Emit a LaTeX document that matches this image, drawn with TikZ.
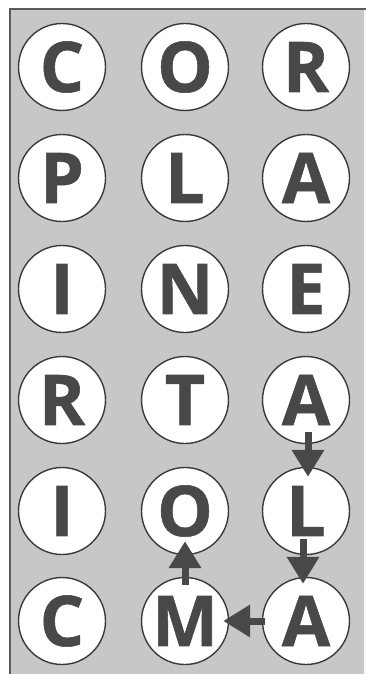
\documentclass[tikz,border=0pt]{standalone}
\usepackage{fontspec}
\setmainfont{Open Sans}
\newfontfamily\ballfont{Open Sans}[UprightFont={* Bold}, FakeBold=0.8]
\usetikzlibrary{arrows.meta}
\definecolor{bggrey}{HTML}{C6C7C9}
\definecolor{edgegrey}{HTML}{5A5A5C}
\definecolor{inkgrey}{HTML}{48484A}
\definecolor{ringgrey}{HTML}{3A3A3C}
\tikzset{
  letterball/.style={circle, minimum size=87pt, inner sep=0pt, draw=ringgrey,
    line width=1.4pt, fill=white, text=inkgrey,
    font=\ballfont\fontsize{70}{70}\selectfont},
  pathArrow/.style={draw=inkgrey, line width=7pt,
    -{Triangle[length=27pt,width=31pt]}, fill=inkgrey}
}
\begin{document}
\begin{tikzpicture}[x=1pt,y=-1pt]
\useasboundingbox (0,0) rectangle (366,674);
\fill[bggrey] (9,8) rectangle (366,674);
\fill[white!85!bggrey] (363.5,8) rectangle (366,674);
\draw[edgegrey, line width=2pt] (10,674) -- (10,9) -- (366,9);
% row 1
\node[letterball] (a11) at (62,67) {C};
\node[letterball] (a12) at (185,67) {O};
\node[letterball] (a13) at (306,67) {R};
% row 2
\node[letterball] (a21) at (62,178) {P};
\node[letterball] (a22) at (185,178) {L};
\node[letterball] (a23) at (306,178) {A};
% row 3
\node[letterball] (a31) at (62,289) {I};
\node[letterball] (a32) at (185,289) {N};
\node[letterball] (a33) at (306,289) {E};
% row 4
\node[letterball] (a41) at (62,400) {R};
\node[letterball] (a42) at (185,400) {T};
\node[letterball] (a43) at (306,400) {A};
% row 5
\node[letterball] (a51) at (62,511) {I};
\node[letterball] (a52) at (185,511) {O};
\node[letterball] (a53) at (306,511) {L};
% row 6
\node[letterball] (a61) at (62,621) {C};
\node[letterball] (a62) at (185,621) {M};
\node[letterball] (a63) at (306,621) {A};
% arrows
\draw[pathArrow, shorten <=-12pt, shorten >=-10pt] ([xshift=2pt]a43.south) -- ([xshift=2pt]a53.north);
\draw[pathArrow, shorten <=-16pt, shorten >=-7pt] ([xshift=-3pt]a53.south) -- ([xshift=-3pt]a63.north);
\draw[pathArrow, shorten <=-3pt, shorten >=-6pt] (a63.west) -- (a62.east);
\draw[pathArrow, shorten <=-8pt, shorten >=-14pt] (a62.north) -- (a52.south);
\end{tikzpicture}
\end{document}
